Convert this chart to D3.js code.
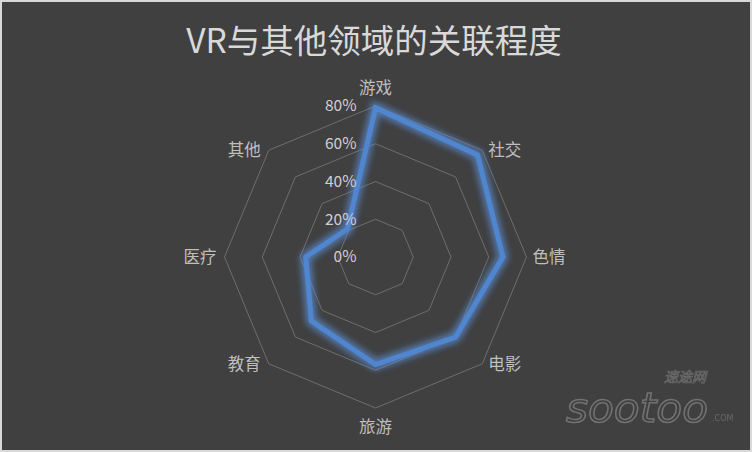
<!DOCTYPE html>
<html><head><meta charset="utf-8">
<script src="https://cdn.jsdelivr.net/npm/d3@7"></script>
<style>
html,body{margin:0;padding:0;background:#d9d9d9;}
svg{display:block;}
</style></head>
<body>
<svg id="chart" width="752" height="452"></svg>
<script>
const categories = ["游戏","社交","色情","电影","旅游","教育","医疗","其他"];
const values = [0.79, 0.765, 0.675, 0.60, 0.57, 0.48, 0.37, 0.21];
const ticks = [0, 0.2, 0.4, 0.6, 0.8];
const tickLabels = ["0%","20%","40%","60%","80%"];
const title = "VR与其他领域的关联程度";

const W = 752, H = 452;
const cx = 375.5, cy = 257;
const font = "'Noto Sans CJK SC','Noto Sans',sans-serif";
const svg = d3.select("#chart");

svg.append("rect").attr("x",2).attr("y",2).attr("width",W-4).attr("height",H-4).attr("fill","#404040");

const defs = svg.append("defs");
const f = defs.append("filter").attr("id","glow").attr("x","-20%").attr("y","-20%").attr("width","140%").attr("height","140%");
f.append("feGaussianBlur").attr("in","SourceGraphic").attr("stdDeviation",3.5).attr("result","b");
const m = f.append("feMerge");
m.append("feMergeNode").attr("in","b");
m.append("feMergeNode").attr("in","b");

svg.append("text").attr("x",374).attr("y",53).attr("text-anchor","middle")
  .attr("font-family",font).attr("font-size",33.5).attr("fill","#d9d9d9").text(title);

const r = d3.scaleLinear().domain([0,0.8]).range([0,151]);
const angle = d3.scalePoint().domain(categories.concat(["_end"])).range([0, 2*Math.PI]);

const g = svg.append("g").attr("transform",`translate(${cx},${cy})`);

// grid rings
const ringLine = d3.lineRadial().angle(d=>angle(d.c)).radius(d=>r(d.v)).curve(d3.curveLinearClosed);
ticks.filter(t=>t>0).forEach(t=>{
  g.append("path").attr("d", ringLine(categories.map(c=>({c, v:t}))))
    .attr("fill","none").attr("stroke","#6e6e6e").attr("stroke-width",1);
});

// data line
const data = categories.map((c,i)=>({c, v:values[i]}));
g.append("path").attr("d", ringLine(data)).attr("fill","none")
  .attr("stroke","#5c8fd8").attr("stroke-width",9).attr("stroke-opacity",0.5)
  .attr("stroke-linejoin","miter").attr("filter","url(#glow)");
g.append("path").attr("d", ringLine(data)).attr("fill","none")
  .attr("stroke","#4f86cf").attr("stroke-width",5).attr("stroke-linejoin","miter");

// tick labels
ticks.forEach((t,i)=>{
  g.append("text").attr("x",-19).attr("y",-r(t)).attr("dy","0.35em").attr("text-anchor","end")
    .attr("font-family",font).attr("font-size",15.5).attr("fill","#d0d0d0").text(tickLabels[i]);
});

// category labels
const labelR = 166;
categories.forEach(c=>{
  const a = angle(c);
  const sx = Math.sin(a), sy = -Math.cos(a);
  let x = labelR*sx, y = labelR*sy;
  let anchor = "middle";
  if (sx > 0.3) { anchor = "start"; x = r(0.8)*sx + 6; y = r(0.8)*sy; }
  else if (sx < -0.3) { anchor = "end"; x = r(0.8)*sx - 8; y = r(0.8)*sy; }
  else if (sy > 0) { y = labelR*sy + 4; }
  else { y = -169; }
  g.append("text").attr("x",x).attr("y",y).attr("dy","0.35em").attr("text-anchor",anchor)
    .attr("font-family",font).attr("font-size",16.5).attr("fill","#bfbfbf").text(c);
});

// watermark
const wm = svg.append("g").attr("opacity",0.55);
wm.append("text").attr("x",706).attr("y",382).attr("text-anchor","end")
  .attr("font-family",font).attr("font-size",14).attr("font-style","italic")
  .attr("fill","none").attr("stroke","#8a8a8a").attr("stroke-width",0.8).text("速途网");
wm.append("text").attr("x",566).attr("y",422)
  .attr("font-family","'DejaVu Sans',sans-serif").attr("font-size",40).attr("font-style","italic")
  .attr("textLength",142).attr("lengthAdjust","spacingAndGlyphs")
  .attr("fill","none").attr("stroke","#9a9a9a").attr("stroke-width",1.5).text("sootoo");
wm.append("text").attr("x",712).attr("y",421)
  .attr("font-family","'DejaVu Sans',sans-serif").attr("font-size",8)
  .attr("fill","#8a8a8a").text(".COM");
</script>
</body></html>
